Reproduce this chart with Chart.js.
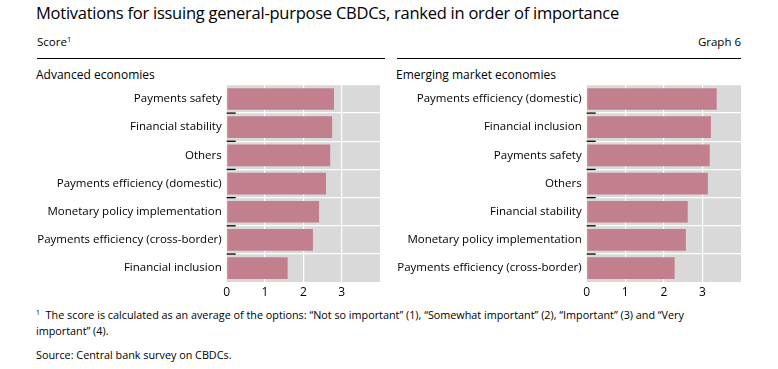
<!DOCTYPE html>
<html>
<head>
<meta charset="utf-8">
<script src="https://cdn.jsdelivr.net/npm/chart.js@4.4.1/dist/chart.umd.min.js"></script>
<style>
  html, body { margin: 0; padding: 0; background: #fff; }
  body { width: 778px; height: 369px; position: relative; overflow: hidden; font-family: "Open Sans", sans-serif; color: #000; }
  .t { position: absolute; white-space: nowrap; }
  #title { left: 36px; top: 1px; font-size: 16.5px; letter-spacing: -0.25px; }
  #score { left: 37px; top: 34px; font-size: 11.5px; }
  #score sup { font-size: 7.5px; vertical-align: 4px; line-height: 0; }
  #graph { right: 37px; top: 34px; font-size: 11.5px; }
  .rule { position: absolute; top: 58px; height: 1.2px; background: #000; }
  .ptitle { position: absolute; top: 66px; font-size: 12px; }
  .fn { position: absolute; left: 36px; font-size: 10.8px; line-height: 16px; }
  .fn sup { font-size: 7px; vertical-align: 4px; line-height: 0; }
  canvas { position: absolute; }
</style>
</head>
<body>
<div class="t" id="title">Motivations for issuing general-purpose CBDCs, ranked in order of importance</div>
<div class="t" id="score">Score<sup>1</sup></div>
<div class="t" id="graph">Graph 6</div>
<div class="rule" style="left:37px;width:348px"></div>
<div class="rule" style="left:397px;width:344px"></div>
<div class="ptitle" style="left:36px">Advanced economies</div>
<div class="ptitle" style="left:396px">Emerging market economies</div>
<div style="position:absolute;left:20px;top:73.1px;width:363px;height:231.2px"><canvas id="c1"></canvas></div>
<div style="position:absolute;left:380px;top:73.1px;width:364px;height:231.2px"><canvas id="c2"></canvas></div>
<div class="fn" style="top:307px"><sup>1</sup>&nbsp; The score is calculated as an average of the options: “Not so important” (1), “Somewhat important” (2), “Important” (3) and “Very<br>important” (4).</div>
<div class="fn" style="top:347px">Source: Central bank survey on CBDCs.</div>
<script>
const advCategories = ["Payments safety", "Financial stability", "Others", "Payments efficiency (domestic)", "Monetary policy implementation", "Payments efficiency (cross-border)", "Financial inclusion"];
const advScores = [2.80, 2.75, 2.70, 2.59, 2.41, 2.25, 1.59];
const emeCategories = ["Payments efficiency (domestic)", "Financial inclusion", "Payments safety", "Others", "Financial stability", "Monetary policy implementation", "Payments efficiency (cross-border)"];
const emeScores = [3.37, 3.22, 3.19, 3.14, 2.62, 2.57, 2.28];
const xTicks = [0, 1, 2, 3];

const bgPlugin = {
  id: 'plotBg',
  beforeDraw(chart) {
    const a = chart.chartArea, ctx = chart.ctx;
    ctx.save();
    ctx.fillStyle = '#d9d9d9';
    ctx.fillRect(a.left, a.top, a.right - a.left, a.bottom - a.top);
    ctx.restore();
  }
};
const tickPlugin = {
  id: 'innerTicks',
  afterDatasetsDraw(chart) {
    const y = chart.scales.y, a = chart.chartArea, ctx = chart.ctx;
    ctx.save();
    ctx.strokeStyle = '#000';
    ctx.lineWidth = 1.3;
    for (let i = 0; i < y.ticks.length - 1; i++) {
      const p = (y.getPixelForTick(i) + y.getPixelForTick(i + 1)) / 2;
      ctx.beginPath();
      ctx.moveTo(a.left, p);
      ctx.lineTo(a.left + 9, p);
      ctx.stroke();
    }
    ctx.restore();
  }
};

function makeChart(id, cats, vals) {
  return new Chart(document.getElementById(id), {
    type: 'bar',
    data: { labels: cats, datasets: [{ data: vals, backgroundColor: '#c27f8e', borderWidth: 0, categoryPercentage: 1, barPercentage: 0.77 }] },
    options: {
      indexAxis: 'y',
      responsive: true,
      maintainAspectRatio: false,
      animation: false,
      layout: { padding: { top: 5, right: 0, left: 0, bottom: 0 } },
      plugins: { legend: { display: false }, tooltip: { enabled: false } },
      scales: {
        x: {
          min: 0, max: 4,
          afterBuildTicks(s) { s.ticks = [0, 1, 2, 3, 4].map(v => ({ value: v })); },
          ticks: {
            padding: 3,
            color: '#000',
            font: { family: 'Open Sans', size: 12 },
            maxRotation: 0,
            callback: v => xTicks.includes(v) ? String(v) : ''
          },
          grid: {
            drawTicks: false,
            color: c => (c.tick && (c.tick.value === 0 || c.tick.value === 4)) ? 'rgba(0,0,0,0)' : '#ffffff',
            lineWidth: 1.2
          },
          border: { display: false },
          afterFit(s) { s.height = 22; }
        },
        y: {
          grid: { offset: true, drawTicks: false, color: '#ffffff', lineWidth: 1.2 },
          border: { display: false },
          ticks: { padding: 5, color: '#000', font: { family: 'Open Sans', size: 11.5 }, autoSkip: false },
          afterFit(s) { s.width = 206.7; }
        }
      }
    },
    plugins: [bgPlugin, tickPlugin]
  });
}
makeChart('c1', advCategories, advScores);
makeChart('c2', emeCategories, emeScores);
</script>
</body>
</html>
